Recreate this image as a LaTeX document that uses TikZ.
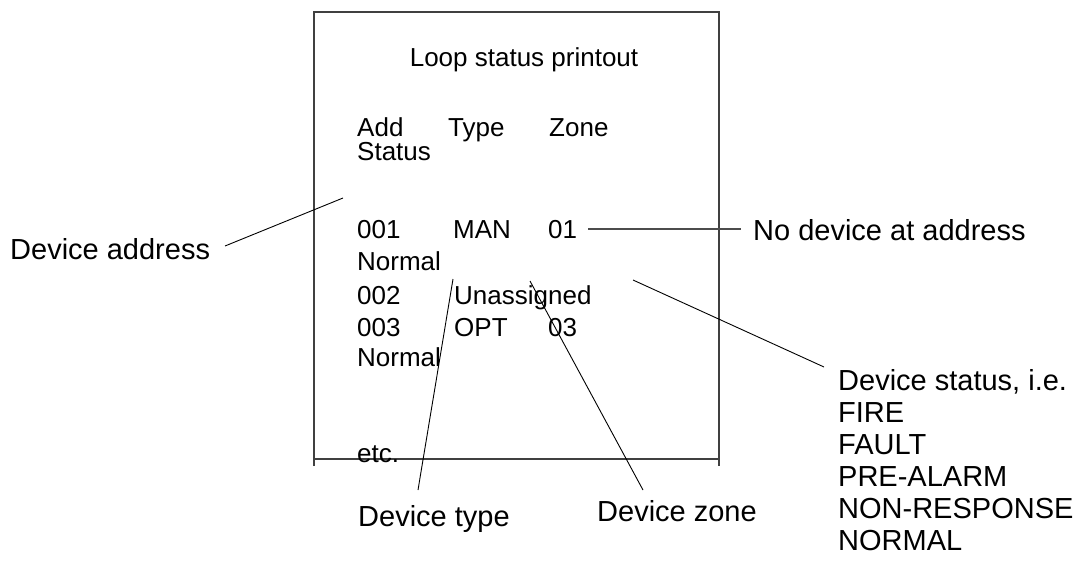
\documentclass[tikz,border=0pt]{standalone}
\usepackage{fontspec}
\setmainfont{Liberation Sans}
\begin{document}
\begin{tikzpicture}[x=1pt,y=-1pt,
  txt/.style={anchor=base west,inner sep=0pt,font=\fontsize{26}{32}\selectfont},
  lbl/.style={anchor=base west,inner sep=0pt,font=\fontsize{29}{32}\selectfont},
  boxline/.style={draw=black!75,line width=1.3pt},
  conn/.style={draw=black,line width=0.9pt}]
\useasboundingbox (0,0) rectangle (1087,565);
% box
\coordinate (tl) at (314,12);
\coordinate (tr) at (719,12);
\coordinate (bl) at (314,466);
\coordinate (br) at (719,466);
\coordinate (bbl) at (313,459);
\coordinate (bbr) at (719,459);
\draw[boxline] (bl) -- (tl) -- (tr) -- (br);
\draw[boxline] (bbl) -- (bbr);
% texts inside
\node[anchor=base,inner sep=0pt,font=\fontsize{26}{32}\selectfont] (title) at (524,66) {Loop status printout};
\node[txt] (hadd) at (357,136) {Add};
\node[txt] (htype) at (448,136) {Type};
\node[txt] (hzone) at (549,136) {Zone};
\node[txt] (hstat) at (357,160) {Status};
\node[txt] (a1) at (357,238) {001};
\node[txt] (t1) at (453,238) {MAN};
\node[txt] (z1) at (548,238) {01};
\node[txt] (s1) at (357,270) {Normal};
\node[txt] (a2) at (357,304) {002};
\node[txt] (t2) at (454,304) {Unassigned};
\node[txt] (a3) at (357,336) {003};
\node[txt] (t3) at (454,336) {OPT};
\node[txt] (z3) at (548,336) {03};
\node[txt] (s3) at (357,366) {Normal};
\node[txt] (etc) at (357,462) {etc.};
% outside labels
\node[lbl] (ldaddr) at (10,259) {Device address};
\node[lbl] (lnodev) at (753,240) {No device at address};
\node[lbl,align=left,anchor=north west] (lstat) at (838,369) {Device status, i.e.\\FIRE\\FAULT\\PRE-ALARM\\NON-RESPONSE\\NORMAL};
\node[lbl] (ltype) at (358,526) {Device type};
\node[lbl] (lzone) at (597,521) {Device zone};
% connector ends
\coordinate (c1a) at (225,246);
\coordinate (c1b) at (343,198);
\coordinate (c2a) at (588,229);
\coordinate (c2b) at (741,229);
\coordinate (c3a) at (633,280);
\coordinate (c3b) at (824,367);
\coordinate (c4a) at (453,279);
\coordinate (c4b) at (418,490);
\coordinate (c5a) at (530,281);
\coordinate (c5b) at (643,490);
\draw[conn] (c1a) -- (c1b);
\draw[conn,draw=black!70,line width=1.2pt] (c2a) -- (c2b);
\draw[conn] (c3a) -- (c3b);
\draw[conn] (c4a) -- (c4b);
\draw[conn] (c5a) -- (c5b);
\end{tikzpicture}
\end{document}
